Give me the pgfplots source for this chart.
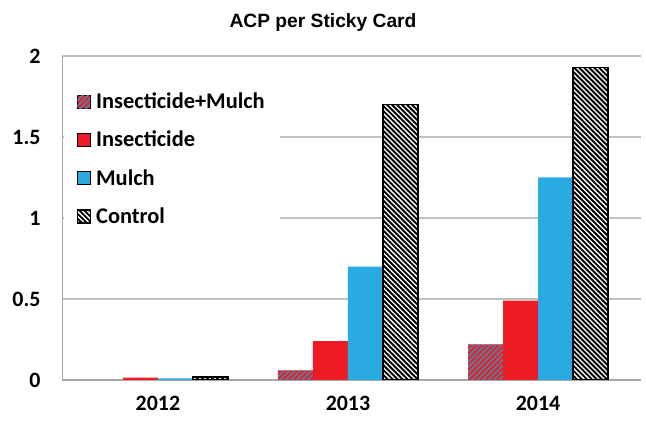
\documentclass[border=0pt]{standalone}
\usepackage{fontspec}
\setmainfont{Carlito}
\newfontfamily\arialfont{Liberation Sans}
\usepackage{pgfplots}
\pgfplotsset{compat=1.18}
\usetikzlibrary{patterns}

\definecolor{insred}{HTML}{ED1C24}
\definecolor{mulchblue}{HTML}{29ABE2}
\definecolor{stripeblue}{HTML}{5B7B9B}
\definecolor{gridgray}{HTML}{C0C0C0}
\definecolor{axisgray}{HTML}{A8A8A8}

% thick diagonal hatchings
\pgfdeclarepatternformonly{thick nw lines}{\pgfqpoint{-1pt}{-1pt}}{\pgfqpoint{6pt}{6pt}}{\pgfqpoint{5pt}{5pt}}{%
  \pgfsetlinewidth{1.9pt}%
  \pgfpathmoveto{\pgfqpoint{-0.1pt}{5.1pt}}\pgfpathlineto{\pgfqpoint{5.1pt}{-0.1pt}}\pgfusepath{stroke}}
\pgfdeclarepatternformonly{thick ne lines}{\pgfqpoint{-1pt}{-1pt}}{\pgfqpoint{6pt}{6pt}}{\pgfqpoint{5.5pt}{5.5pt}}{%
  \pgfsetlinewidth{1.8pt}%
  \pgfpathmoveto{\pgfqpoint{-0.1pt}{-0.1pt}}\pgfpathlineto{\pgfqpoint{5.6pt}{5.6pt}}\pgfusepath{stroke}}

\begin{document}
\begin{tikzpicture}
\begin{axis}[
  scale only axis, width=579bp, height=324bp,
  ymin=0, ymax=2, xmin=-0.505, xmax=2.542,
  ybar=0pt, bar width=35bp,
  xtick={0,1,2}, xticklabels={2012,2013,2014},
  ytick={0,0.5,1,1.5,2}, yticklabels={0,0.5,1,1.5,2},
  ymajorgrids, grid style={gridgray, line width=1.5bp},
  axis x line*=bottom, axis y line*=left,
  x axis line style={-, axisgray, line width=2bp},
  y axis line style={-, axisgray, line width=1bp},
  major tick length=0pt,
  ticklabel style={font=\fontsize{22}{26}\selectfont\bfseries},
  /pgf/number format/assume math mode=true,
  yticklabel style={xshift=-18bp},
  xticklabel style={yshift=-13bp},
  legend image code/.code={\draw[#1] (0bp,-6.5bp) rectangle (13bp,6.5bp);},
  legend style={at={(0.0025,0.905)}, anchor=north west, draw=none, fill=white,
    font=\fontsize{22.5}{26}\selectfont\bfseries, inner xsep=13bp, inner ysep=4bp,
    row sep=17bp, nodes={inner sep=2bp}, column sep=3bp},
  legend cell align=left,
]
% Insecticide+Mulch: red with blue-grey stripes
\addplot[fill=insred, draw=none,
  postaction={pattern=thick ne lines, pattern color=stripeblue}]
  coordinates {(0,0) (1,0.06) (2,0.22)};
% Insecticide
\addplot[fill=insred, draw=none] coordinates {(0,0.015) (1,0.24) (2,0.49)};
% Mulch
\addplot[fill=mulchblue, draw=none] coordinates {(0,0.01) (1,0.70) (2,1.25)};
% Control: black/white hatching
\addplot[fill=white, draw=black, line width=1.5bp,
  postaction={pattern=thick nw lines, pattern color=black}]
  coordinates {(0,0.02) (1,1.70) (2,1.93)};
\legend{Insecticide+Mulch, Insecticide, Mulch, Control}
\end{axis}
\node[font=\arialfont\bfseries\fontsize{19.3}{23}\selectfont] at (261bp,357bp) {ACP per Sticky Card};
\pgfresetboundingbox
\useasboundingbox (-62bp,-50bp) rectangle (584bp,380bp);
\end{tikzpicture}
\end{document}
